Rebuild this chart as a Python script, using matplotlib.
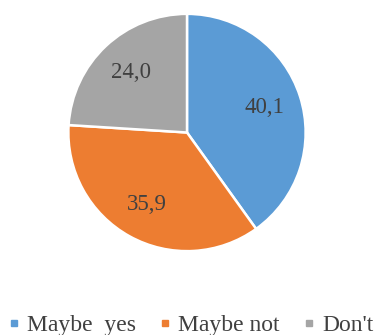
import matplotlib
matplotlib.use("Agg")
import matplotlib.pyplot as plt
from matplotlib.lines import Line2D

categories = ["Maybe  yes", "Maybe not", "Don't"]
values = [40.1, 35.9, 24.0]
value_labels = ["40,1", "35,9", "24,0"]
colors = ["#5B9BD5", "#ED7D31", "#A5A5A5"]

plt.rcParams['font.family'] = ['Liberation Serif', 'DejaVu Serif']
text_color = "#404040"

W, H = 377, 335
fig = plt.figure(figsize=(W / 100, H / 100), dpi=100)
cx, cy, r = 187, 132.5, 121
ax = fig.add_axes([(cx - r) / W, (H - cy - r) / H, 2 * r / W, 2 * r / H])

wedges, texts = ax.pie(values, colors=colors, startangle=90, counterclock=False,
                       labels=value_labels, labeldistance=0.69,
                       wedgeprops=dict(edgecolor="white", linewidth=1.8),
                       textprops=dict(fontsize=16.5, color=text_color))
for t in texts:
    t.set_horizontalalignment('center')
    t.set_verticalalignment('center')
ax.set_xlim(-1.02, 1.02)
ax.set_ylim(-1.02, 1.02)
ax.set_aspect('equal')

handles = [Line2D([0], [0], marker='s', linestyle='none', markersize=5,
                  markerfacecolor=c, markeredgecolor=c) for c in colors]
fig.legend(handles, categories, loc='center left', ncol=3, frameon=False,
           bbox_to_anchor=(8 / W, 1 - 325 / H), borderaxespad=0, borderpad=0,
           handlelength=0.5, handletextpad=0.3, columnspacing=1.0,
           prop=dict(size=17), labelcolor=text_color)

fig.savefig("out.png", dpi=100)
